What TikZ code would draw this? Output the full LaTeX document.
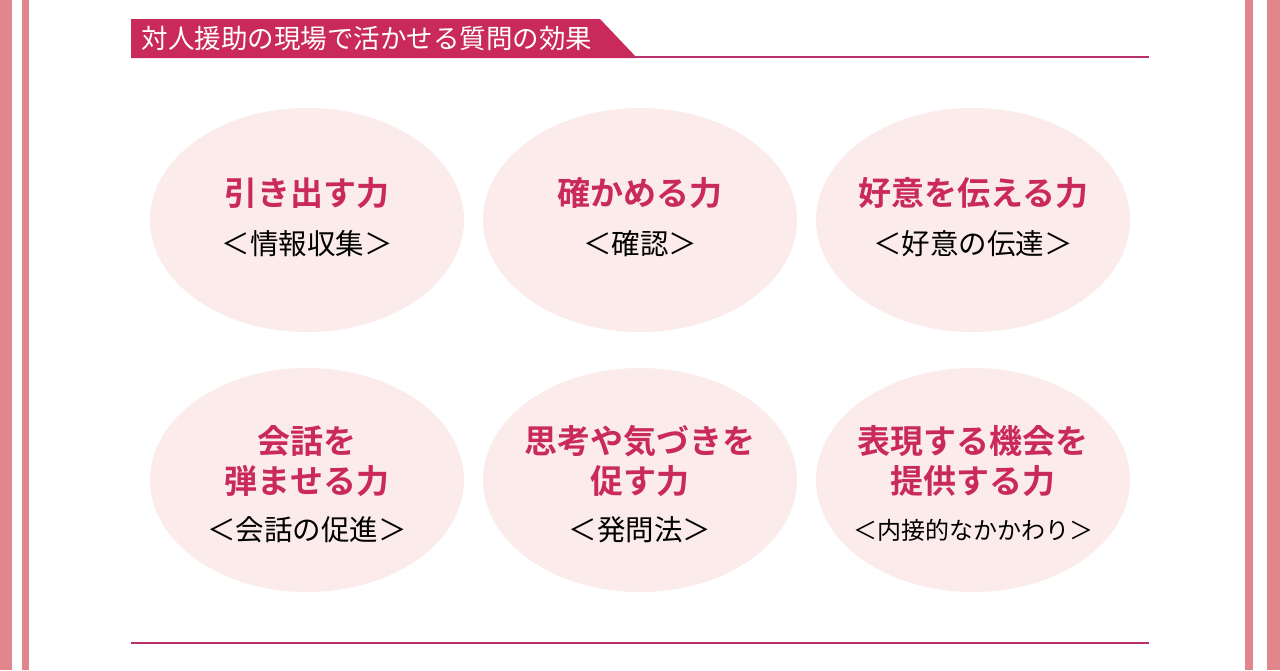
\documentclass[tikz,border=0pt]{standalone}
\usepackage{fontspec}
\newfontfamily\jp{Noto Sans CJK JP}
\newfontfamily\jpb{Noto Sans CJK JP Bold}
\definecolor{bar}{HTML}{E0868C}
\definecolor{mag}{HTML}{C92A5B}
\definecolor{line}{HTML}{B8306A}
\definecolor{oval}{HTML}{FBEBEA}
\tikzset{oval/.style={ellipse,fill=oval,minimum width=314pt,minimum height=224pt},
ttl/.style={text=mag,font=\jpb\fontsize{33}{40}\selectfont,align=center},
sub/.style={font=\jp\fontsize{28.5}{30}\selectfont}}
\usetikzlibrary{shapes.geometric}
\begin{document}
\begin{tikzpicture}[x=1pt,y=-1pt]
\useasboundingbox[fill=white] (0,0) rectangle (1280,670);
\fill[bar] (0,0) rectangle (12,670);
\fill[bar] (22,0) rectangle (29,670);
\fill[bar] (1245,0) rectangle (1253,670);
\fill[bar] (1267,0) rectangle (1280,670);
\fill[mag] (131,19) -- (600,19) -- (637,58) -- (131,58) -- cycle;
\node[anchor=west,text=white,font=\jp\fontsize{26.5}{28}\selectfont] (hd) at (138,39) {対人援助の現場で活かせる質問の効果};
\draw[line,line width=2pt] (630,57) -- (1149,57);
\draw[line,line width=2pt] (131,643) -- (1149,643);
\foreach \n/\x/\y in {a/307/220,b/640/220,c/973/220,d/307/480,e/640/480,f/973/480}
  \node[oval] (\n) at (\x,\y) {};
\node[ttl] at (307,193) {引き出す力};
\node[sub] at (307,244) {＜情報収集＞};
\node[ttl] at (640,193) {確かめる力};
\node[sub] at (640,244) {＜確認＞};
\node[ttl] at (973,193) {好意を伝える力};
\node[sub] at (973,244) {＜好意の伝達＞};
\node[ttl] at (307,461) {会話を\\弾ませる力};
\node[sub] at (307,530) {＜会話の促進＞};
\node[ttl] at (640,461) {思考や気づきを\\促す力};
\node[sub] at (640,530) {＜発問法＞};
\node[ttl] at (973,461) {表現する機会を\\提供する力};
\node[sub,font=\jp\fontsize{24}{26}\selectfont] at (973,530) {＜内接的なかかわり＞};
\end{tikzpicture}
\end{document}
